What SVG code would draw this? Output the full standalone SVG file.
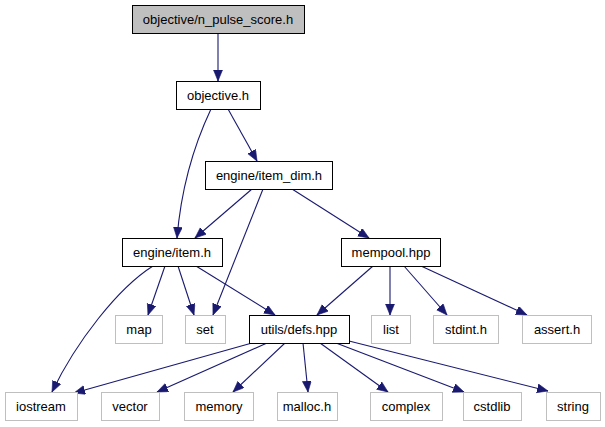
<svg xmlns="http://www.w3.org/2000/svg" width="605" height="427" viewBox="0 0 605 427">
<style>
text{font-family:"Liberation Sans",Arial,sans-serif;font-size:13px;text-anchor:middle;fill:#000}
.n rect{fill:#fff;stroke:#000;stroke-width:1}
.g rect{fill:#fff;stroke:#bfbfbf;stroke-width:1}
.root rect{fill:#bfbfbf;stroke:#000;stroke-width:1}
.e path{fill:none;stroke:#191970;stroke-width:1.1;marker-end:url(#a)}
</style>
<defs>
<marker id="a" markerUnits="userSpaceOnUse" markerWidth="13" markerHeight="10" refX="11" refY="4.5" orient="auto" viewBox="0 0 13 10">
<path d="M0,0 L11,4.5 L0,9 z" fill="#191970" stroke="#191970" stroke-width="0.6"/>
</marker>
</defs>
<rect width="605" height="427" fill="#fff"/>
<g class="e" id="edges">
<path d="M218,33 L218,81"/>
<path d="M211,109 C194,145 181,190 177,238"/>
<path d="M228,109 L257,161"/>
<path d="M252,189 L195,238"/>
<path d="M263,189 L213,315"/>
<path d="M292,189 L369,238"/>
<path d="M165,266 L148,315"/>
<path d="M178,266 L194,315"/>
<path d="M196,266 L275,315"/>
<path d="M153,266 C118,288 76,342 52,392"/>
<path d="M373,266 L317,315"/>
<path d="M390,266 L390,315"/>
<path d="M404,266 L447,315"/>
<path d="M421,266 L527,315"/>
<path d="M252,343 L74,393"/>
<path d="M267,343 L157,392"/>
<path d="M285,343 L233,392"/>
<path d="M303,343 L308,392"/>
<path d="M320,343 L388,392"/>
<path d="M336,343 L464,392"/>
<path d="M349,341 L548,391"/>
</g>
<g class="root" id="n_pulse_score"><rect x="132.5" y="5.5" width="172" height="28"/><text x="218" y="24">objective/n_pulse_score.h</text></g>
<g class="n" id="objective"><rect x="176.5" y="81.5" width="84" height="28"/><text x="218" y="100">objective.h</text></g>
<g class="n" id="item_dim"><rect x="205.5" y="161.5" width="127" height="28"/><text x="269" y="180">engine/item_dim.h</text></g>
<g class="n" id="item"><rect x="122.5" y="238.5" width="100" height="28"/><text x="172" y="257">engine/item.h</text></g>
<g class="n" id="mempool"><rect x="341.5" y="238.5" width="99" height="28"/><text x="391" y="257">mempool.hpp</text></g>
<g class="g" id="map"><rect x="115.5" y="315.5" width="47" height="28"/><text x="139" y="334">map</text></g>
<g class="g" id="set"><rect x="185.5" y="315.5" width="40" height="28"/><text x="205" y="334">set</text></g>
<g class="n" id="defs"><rect x="249.5" y="315.5" width="100" height="28"/><text x="299" y="334">utils/defs.hpp</text></g>
<g class="g" id="list"><rect x="371.5" y="315.5" width="39" height="28"/><text x="391" y="334">list</text></g>
<g class="g" id="stdint"><rect x="433.5" y="315.5" width="65" height="28"/><text x="466" y="334">stdint.h</text></g>
<g class="g" id="assert"><rect x="522.5" y="315.5" width="69" height="28"/><text x="557" y="334">assert.h</text></g>
<g class="g" id="iostream"><rect x="5.5" y="392.5" width="72" height="28"/><text x="41" y="411">iostream</text></g>
<g class="g" id="vector"><rect x="101.5" y="392.5" width="58" height="28"/><text x="130" y="411">vector</text></g>
<g class="g" id="memory"><rect x="184.5" y="392.5" width="69" height="28"/><text x="219" y="411">memory</text></g>
<g class="g" id="malloc"><rect x="277.5" y="392.5" width="60" height="28"/><text x="307" y="411">malloc.h</text></g>
<g class="g" id="complex"><rect x="370.5" y="392.5" width="72" height="28"/><text x="406" y="411">complex</text></g>
<g class="g" id="cstdlib"><rect x="463.5" y="392.5" width="58" height="28"/><text x="492" y="411">cstdlib</text></g>
<g class="g" id="string"><rect x="546.5" y="392.5" width="54" height="28"/><text x="573" y="411">string</text></g>
</svg>
